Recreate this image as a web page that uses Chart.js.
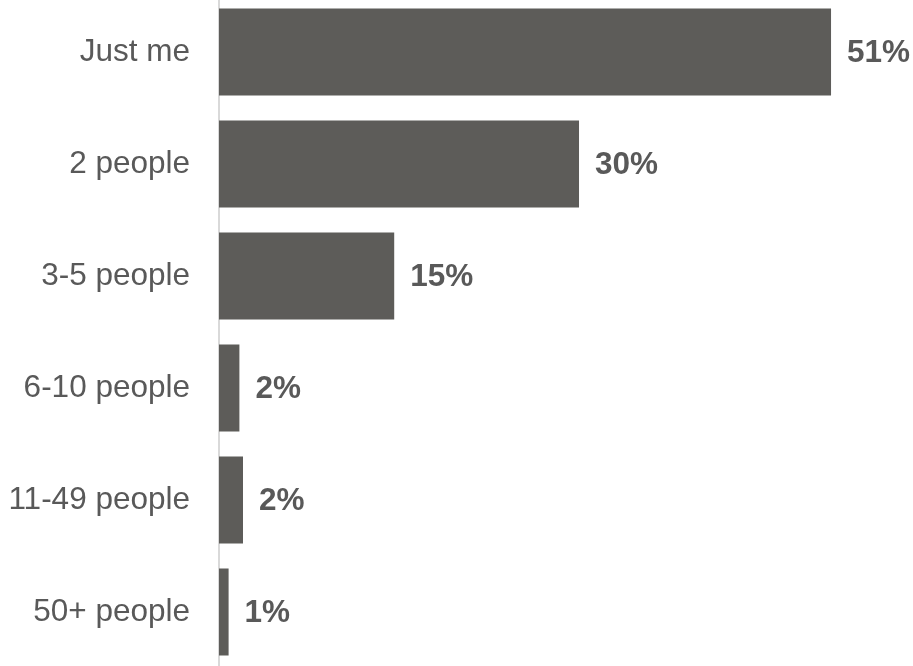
<!DOCTYPE html>
<html>
<head>
<meta charset="utf-8">
<script src="https://cdn.jsdelivr.net/npm/chart.js@4"></script>
<style>
html,body{margin:0;padding:0;background:#fff;overflow:hidden;width:913px;height:666px;}
#wrap{position:absolute;left:0;top:-4px;width:913px;height:672px;}
</style>
</head>
<body>
<div id="wrap"><canvas id="c" width="913" height="672"></canvas></div>
<script>
const categories = ["Just me", "2 people", "3-5 people", "6-10 people", "11-49 people", "50+ people"];
const shares = [51, 30, 14.6, 1.7, 2.0, 0.8];

const FONT = '"Liberation Sans", Arial, sans-serif';
const TEXT = '#595959';
const BAR = '#5d5c59';

const valueLabels = {
  id: 'valueLabels',
  afterDatasetsDraw(chart) {
    const ctx = chart.ctx;
    const meta = chart.getDatasetMeta(0);
    ctx.save();
    ctx.font = 'bold 31.5px ' + FONT;
    ctx.fillStyle = TEXT;
    ctx.textAlign = 'left';
    ctx.textBaseline = 'middle';
    meta.data.forEach((el, i) => {
      const v = chart.data.datasets[0].data[i];
      ctx.fillText(Math.round(v) + '%', el.x + 16, el.y + 1);
    });
    ctx.restore();
  }
};

new Chart(document.getElementById('c'), {
  type: 'bar',
  data: {
    labels: categories,
    datasets: [{
      data: shares,
      backgroundColor: BAR,
      borderWidth: 0,
      barPercentage: 0.775,
      categoryPercentage: 1.0
    }]
  },
  options: {
    indexAxis: 'y',
    responsive: false,
    animation: false,
    devicePixelRatio: 1,
    layout: { autoPadding: false, padding: { top: 0, bottom: 0, left: 0, right: 0 } },
    plugins: { legend: { display: false }, tooltip: { enabled: false } },
    scales: {
      x: {
        display: false,
        min: 0,
        max: 57.83
      },
      y: {
        afterFit(scale) { scale.width = 219; scale.paddingTop = 0; scale.paddingBottom = 0; },
        grid: { display: false, drawTicks: false },
        border: { display: true, color: '#d9d9d9', width: 2 },
        ticks: {
          color: TEXT,
          padding: 29,
          font: { family: FONT, size: 31.5 }
        }
      }
    }
  },
  plugins: [valueLabels]
});
</script>
</body>
</html>
